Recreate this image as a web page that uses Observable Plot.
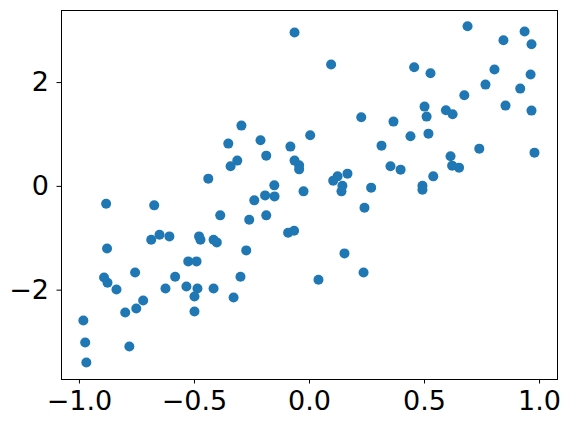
<!DOCTYPE html>
<html>
<head>
<meta charset="utf-8">
<script src="https://cdn.jsdelivr.net/npm/d3@7"></script>
<script src="https://cdn.jsdelivr.net/npm/@observablehq/plot@0.6"></script>
<style>
  html, body { margin: 0; padding: 0; background: #fff; }
</style>
</head>
<body>
<div id="chart"></div>
<script>
const xs = [
  -0.065, -0.296, -0.353, -0.213, 0.003, -0.188, -0.083, -0.314, -0.343, -0.065,
  -0.045, -0.045, -0.440, -0.153, -0.026, -0.193, -0.152, -0.240,
  -0.884, -0.675, -0.388, -0.188, -0.262, -0.093, -0.067, -0.688, -0.652, -0.609,
  -0.480, -0.474, -0.417, -0.403, -0.880, -0.275, -0.527, -0.491, -0.893, -0.878,
  -0.758, -0.584, -0.300, -0.839, -0.626, -0.535, -0.487, -0.417, -0.500, -0.330,
  -0.723, -0.753, -0.801, -0.500, -0.983, -0.975, -0.783, -0.970,
  0.687, 0.935, 0.843, 0.965, 0.094, 0.455, 0.526, 0.804, 0.961, 0.765,
  0.916, 0.673, 0.500, 0.593, 0.622, 0.509, 0.852, 0.965, 0.225, 0.365,
  0.439, 0.517, 0.313, 0.738, 0.978, 0.613, 0.620, 0.650, 0.352, 0.396,
  0.538, 0.165, 0.122, 0.103, 0.143, 0.139, 0.268, 0.491, 0.491,
  0.239, 0.152, 0.235, 0.039
];
const ys = [
  2.964, 1.171, 0.824, 0.887, 0.984, 0.592, 0.766, 0.496, 0.386, 0.496,
  0.405, 0.328, 0.149, 0.019, -0.096, -0.174, -0.193, -0.270,
  -0.334, -0.366, -0.559, -0.559, -0.642, -0.893, -0.854, -1.028, -0.932, -0.964,
  -0.964, -1.028, -1.028, -1.080, -1.196, -1.234, -1.446, -1.446, -1.755, -1.857,
  -1.659, -1.742, -1.742, -1.987, -1.967, -1.929, -1.967, -1.967, -2.122, -2.141,
  -2.199, -2.353, -2.430, -2.411, -2.584, -3.009, -3.086, -3.394,
  3.086, 2.984, 2.816, 2.739, 2.347, 2.295, 2.179, 2.251, 2.154, 1.961,
  1.884, 1.755, 1.537, 1.466, 1.389, 1.344, 1.556, 1.460, 1.331, 1.248,
  0.964, 1.016, 0.785, 0.727, 0.650, 0.579, 0.399, 0.361, 0.386, 0.322,
  0.193, 0.245, 0.193, 0.110, 0.013, -0.096, -0.025, 0.013, -0.064,
  -0.411, -1.292, -1.659, -1.799
];
const xTicks = [-1.0, -0.5, 0.0, 0.5, 1.0];
const yTicks = [-2, 0, 2];

const data = xs.map((x, i) => ({x, y: ys[i]}));

const chart = Plot.plot({
  width: 571,
  height: 427,
  marginLeft: 61,
  marginRight: 14,
  marginTop: 10,
  marginBottom: 48,
  style: {
    fontFamily: "DejaVu Sans, sans-serif",
    fontSize: "27px",
    color: "black",
    background: "white"
  },
  x: {domain: [-1.078, 1.078], label: null},
  y: {domain: [-3.722, 3.389], label: null},
  marks: [
    Plot.axisX({ticks: xTicks, tickFormat: d3.format(".1f"), tickSize: 4.5, tickPadding: 7, label: null, fontSize: 27}),
    Plot.axisY({ticks: yTicks, tickFormat: d3.format("d"), tickSize: 4.5, tickPadding: 8, label: null, fontSize: 27}),
    Plot.dot(data, {x: "x", y: "y", r: 5, fill: "#1f77b4", stroke: null}),
    Plot.frame({stroke: "black", strokeWidth: 1})
  ]
});
document.getElementById("chart").appendChild(chart);
</script>
</body>
</html>
